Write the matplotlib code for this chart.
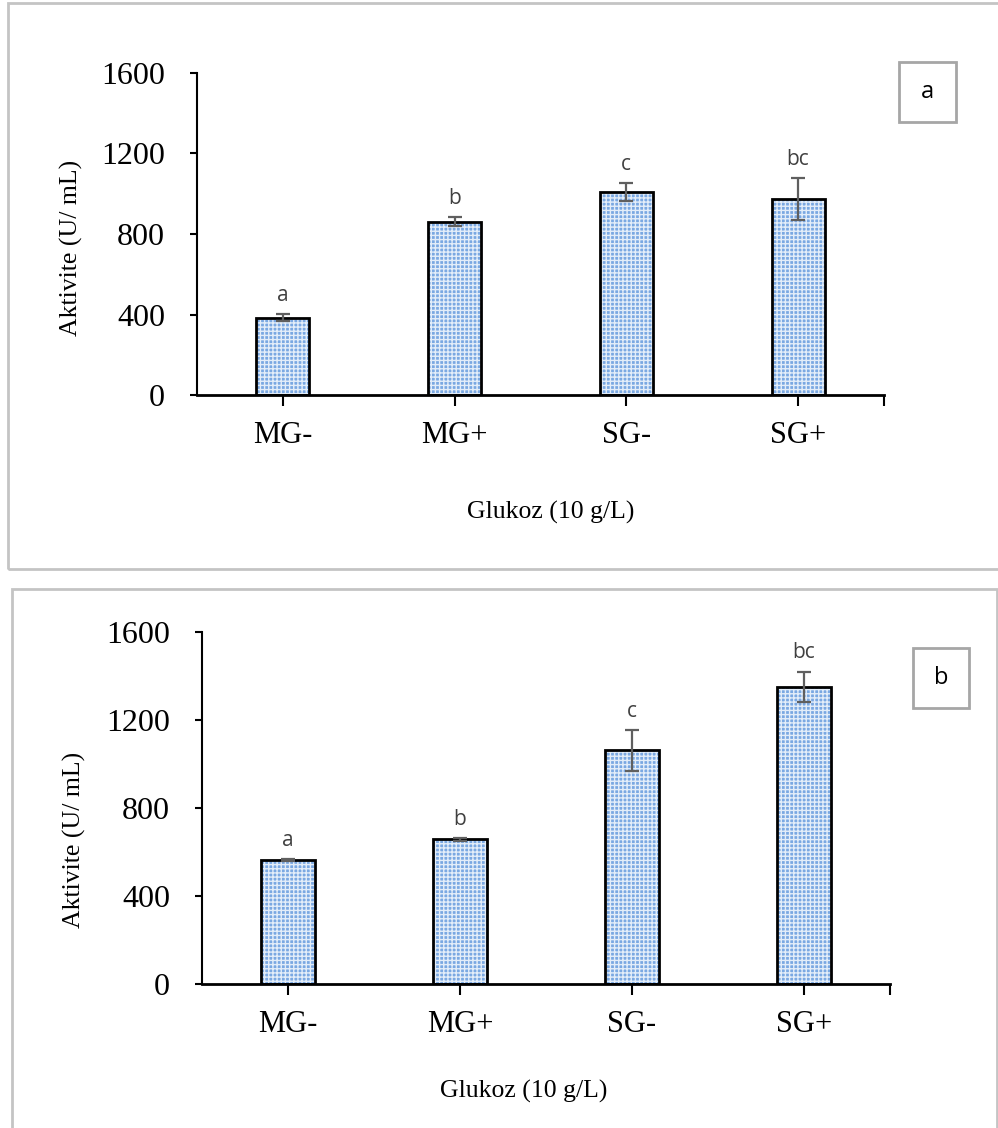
import numpy as np
import matplotlib
matplotlib.use("Agg")
import matplotlib.pyplot as plt
from matplotlib.patches import Rectangle

categories = ["MG-", "MG+", "SG-", "SG+"]
letters = ["a", "b", "c", "bc"]

values_a = [385, 862, 1008, 973]
errors_a = [18, 22, 46, 104]

values_b = [563, 657, 1062, 1352]
errors_b = [5, 5, 93, 68]

yticks = [0, 400, 800, 1200, 1600]

W, H = 998, 1128
fig = plt.figure(figsize=(W / 100, H / 100), dpi=100)

serif = "Liberation Serif"
sans = ["Open Sans", "DejaVu Sans"]


def px_axes(left, top, right, bottom):
    return fig.add_axes([left / W, 1 - bottom / H, (right - left) / W, (bottom - top) / H])


def draw_panel(ax, values, errors, tag, tagbox, ylabel_pos, xlabel_pos):
    x = np.arange(len(categories))
    # pattern fill first, then the black outline on top
    ax.bar(x, values, width=0.31, color="#7aa8e2", edgecolor="#e3edf9",
           hatch="++++", linewidth=0, zorder=2)
    ax.bar(x, values, width=0.31, facecolor="none", edgecolor="black",
           linewidth=2, zorder=3)
    ax.errorbar(x, values, yerr=errors, fmt="none", ecolor="#5f5f5f",
                elinewidth=1.6, capsize=5, capthick=1.6, zorder=4)
    for xi, v, e, t in zip(x, values, errors, letters):
        ax.annotate(t, (xi, v + e), xytext=(0, 6), textcoords="offset points",
                    ha="center", va="bottom", fontsize=15, color="#404040",
                    family=sans)

    ax.set_xlim(-0.5, 3.5)
    ax.set_ylim(0, 1600)
    ax.set_yticks(yticks)
    ax.set_xticks(x)
    ax.set_xticks([3.5], minor=True)
    ax.set_xticklabels(categories, fontsize=22, family=serif)
    ax.set_yticklabels([str(t) for t in yticks], fontsize=23, family=serif)
    ax.tick_params(axis="y", direction="out", length=5, width=1.5, pad=18)
    ax.tick_params(axis="x", which="both", direction="out", length=8, width=1.5, pad=11)
    for s in ["top", "right"]:
        ax.spines[s].set_visible(False)
    ax.spines["left"].set_linewidth(1.5)
    ax.spines["bottom"].set_linewidth(2)
    ax.patch.set_alpha(0)

    fig.text(ylabel_pos[0] / W, 1 - ylabel_pos[1] / H, "Aktivite (U/ mL)",
             rotation=90, ha="center", va="center", fontsize=18.5, family=serif)
    fig.text(xlabel_pos[0] / W, 1 - xlabel_pos[1] / H, "Glukoz (10 g/L)",
             ha="center", va="center", fontsize=18.5, family=serif)

    bx0, by0, bx1, by1 = tagbox
    fig.patches.append(Rectangle((bx0 / W, 1 - by1 / H), (bx1 - bx0) / W, (by1 - by0) / H,
                                 transform=fig.transFigure, facecolor="white",
                                 edgecolor="#a6a6a6", linewidth=2))
    fig.text((bx0 + bx1) / 2 / W, 1 - (by0 + by1) / 2 / H, tag,
             ha="center", va="center", fontsize=17, family=sans, color="black")


# panel frames
fig.patches.append(Rectangle((8 / W, 1 - 569 / H), 1.0, (569 - 3) / H,
                             transform=fig.transFigure, facecolor="none",
                             edgecolor="#c4c4c4", linewidth=2))
fig.patches.append(Rectangle((12 / W, -0.01), (997 - 12) / W, 1 - 589 / H + 0.01,
                             transform=fig.transFigure, facecolor="none",
                             edgecolor="#c4c4c4", linewidth=2))

ax1 = px_axes(197, 73, 884, 395)
draw_panel(ax1, values_a, errors_a, "a", (899, 62, 956, 122), (71, 248), (551, 512))

ax2 = px_axes(202, 632, 890, 984)
draw_panel(ax2, values_b, errors_b, "b", (913, 648, 969, 708), (74, 840), (524, 1091))

fig.savefig("out.png", dpi=100)
